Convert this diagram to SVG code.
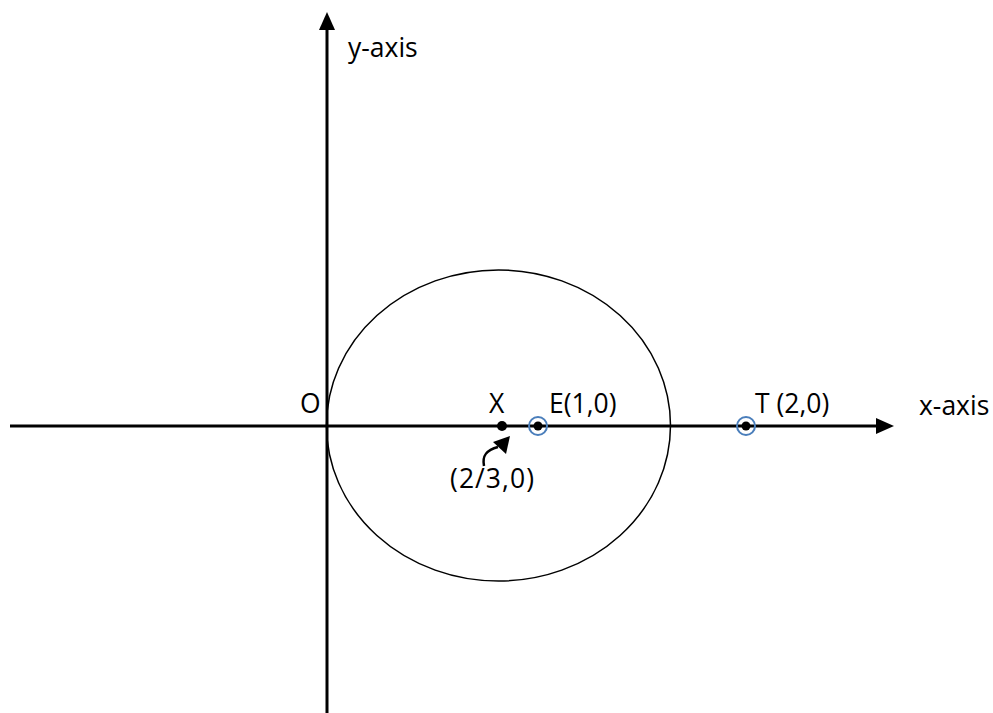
<svg xmlns="http://www.w3.org/2000/svg" width="993" height="713" viewBox="0 0 993 713">
<style>
.ax{stroke:#000;stroke-width:3;fill:none}
.t{font-family:"Open Sans","Liberation Sans",sans-serif;font-size:26.5px;fill:#000}
.dot{fill:#000}
.ring{fill:none;stroke:#4a7ebb;stroke-width:2}
</style>
<rect width="993" height="713" fill="#fff"/>
<g id="connectors">
<line class="ax" x1="10" y1="426" x2="876" y2="426"/>
<path d="M876,418 L894,426 L876,434 z" fill="#000"/>
<line class="ax" x1="327" y1="713" x2="327" y2="30"/>
<path d="M319,30 L327,12 L335,30 z" fill="#000"/>
<path d="M484,466 C482,456 486,450 498,447" fill="none" stroke="#000" stroke-width="2.5"/>
<path d="M493,442 L510,436 L506,454 z" fill="#000"/>
</g>
<g id="circle"><ellipse cx="498.5" cy="425.5" rx="172" ry="155.5" fill="none" stroke="#000" stroke-width="1.5"/></g>
<g id="origin"><text class="t" x="300" y="413">O</text></g>
<g id="X"><circle class="dot" cx="502" cy="426" r="5"/><text class="t" x="489" y="413">X</text></g>
<g id="E"><circle class="ring" cx="538" cy="426" r="9"/><circle class="dot" cx="538" cy="426" r="4.5"/><text class="t" x="549" y="413">E(1,0)</text></g>
<g id="T"><circle class="ring" cx="746" cy="426" r="9"/><circle class="dot" cx="746" cy="426" r="4.5"/><text class="t" x="755" y="413">T (2,0)</text></g>
<g id="xlabel"><text class="t" x="919" y="415">x-axis</text></g>
<g id="ylabel"><text class="t" x="348" y="57">y-axis</text></g>
<g id="xlab2"><text class="t" x="450" y="488" textLength="84" lengthAdjust="spacing">(2/3,0)</text></g>
</svg>
